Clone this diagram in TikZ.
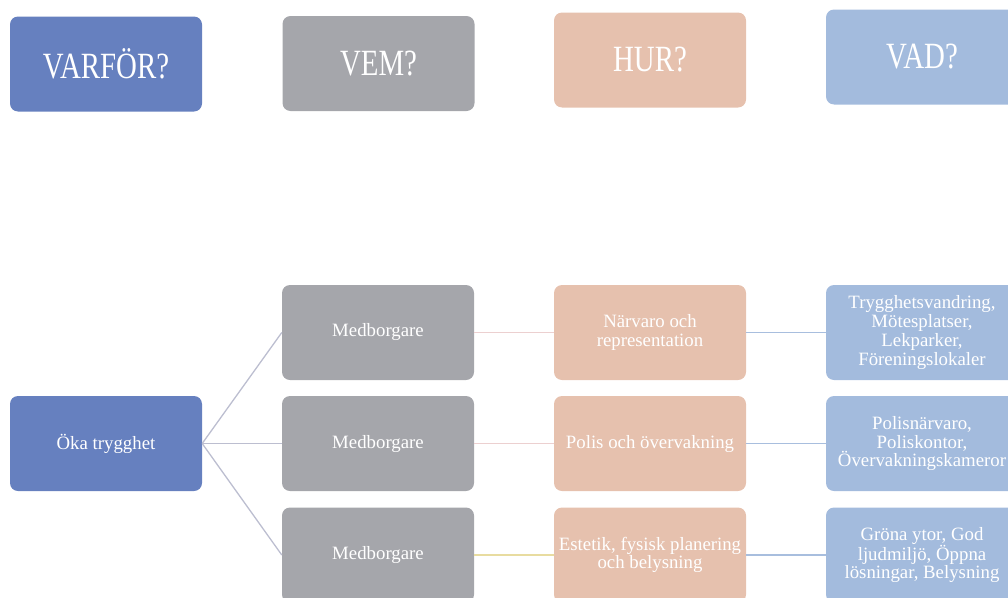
\documentclass[tikz,border=0pt]{standalone}
\usepackage{fontspec}
\usepackage{xcolor}
\usepackage{tikz}
\setmainfont{Liberation Serif}
\newcommand{\titretxt}[1]{\scalebox{0.78}[1]{#1}}

\definecolor{bleu}{RGB}{102,128,191}
\definecolor{gris}{RGB}{165,166,171}
\definecolor{peche}{RGB}{230,193,174}
\definecolor{ciel}{RGB}{163,187,221}
\definecolor{lienbleu}{RGB}{188,190,208}
\definecolor{lienrose}{RGB}{236,208,208}
\definecolor{lienjaune}{RGB}{232,220,160}
\definecolor{lienciel}{RGB}{168,190,222}

\begin{document}
\begin{tikzpicture}[x=1pt, y=-1pt,
  boite/.style={rounded corners=8pt, minimum width=192pt, minimum height=95pt,
    inner sep=2pt, align=center, text=white, font=\fontsize{18.8}{18.7}\selectfont},
  titre/.style={boite, font=\fontsize{37}{40}\selectfont},
  lien/.style={line width=1.3pt}]

\useasboundingbox (0,0) rectangle (1008,597);
\clip (0,0) rectangle (1008,597);

% Titres des colonnes
\node[titre, fill=bleu] (varfor) at (106,64) {\titretxt{VARFÖR?}};
\node[titre, fill=gris] (vem) at (378.5,63.5) {\titretxt{VEM?}};
\node[titre, fill=peche] (hur) at (650,60) {\titretxt{HUR?}};
\node[titre, fill=ciel] (vad) at (922,57) {\titretxt{VAD?}};

% Objectif
\node[boite, fill=bleu] (oka) at (106,443.5) {Öka trygghet};

% Qui
\node[boite, fill=gris] (med1) at (378,332.5) {Medborgare};
\node[boite, fill=gris] (med2) at (378,443.5) {Medborgare};
\node[boite, fill=gris] (med3) at (378,555) {Medborgare};

% Comment
\node[boite, fill=peche] (hur1) at (650,332.5) {Närvaro och\\representation};
\node[boite, fill=peche] (hur2) at (650,443.5) {Polis och övervakning};
\node[boite, fill=peche] (hur3) at (650,555) {Estetik, fysisk planering\\och belysning};

% Quoi
\node[boite, fill=ciel] (vad1) at (922,332.5) {Trygghetsvandring,\\Mötesplatser,\\Lekparker,\\Föreningslokaler};
\node[boite, fill=ciel] (vad2) at (922,443.5) {Polisnärvaro,\\Poliskontor,\\Övervakningskameror};
\node[boite, fill=ciel] (vad3) at (922,555) {Gröna ytor, God\\ljudmiljö, Öppna\\lösningar, Belysning};

% Liens
\draw[lien, lienbleu] (oka.east) -- (med1.west);
\draw[lien, lienbleu] (oka.east) -- (med2.west);
\draw[lien, lienbleu] (oka.east) -- (med3.west);

\draw[lien, lienrose] (med1) -- (hur1);
\draw[lien, lienrose] (med2) -- (hur2);
\draw[lien, lienjaune] (med3) -- (hur3);

\draw[lien, lienciel] (hur1) -- (vad1);
\draw[lien, lienciel] (hur2) -- (vad2);
\draw[lien, lienciel] (hur3) -- (vad3);

\end{tikzpicture}
\end{document}
